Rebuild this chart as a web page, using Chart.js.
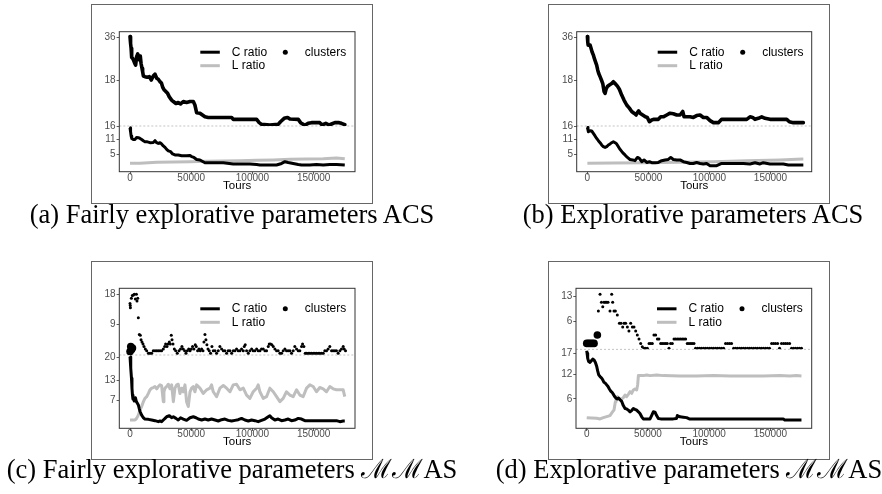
<!DOCTYPE html>
<html>
<head>
<meta charset="utf-8">
<script src="https://cdn.jsdelivr.net/npm/chart.js@4.4.0/dist/chart.umd.min.js"></script>
<style>
  body { margin: 0; background: #fff; width: 882px; height: 494px; position: relative; overflow: hidden; }
  .box { position: absolute; border: 1px solid #666; box-sizing: border-box; }
  .box canvas { display: block; }
  .cap { position: absolute; width: 600px; text-align: center; white-space: nowrap;
         font-family: "Liberation Serif", serif; font-size: 26.5px; line-height: 26.5px; color: #000; }
</style>
</head>
<body>
<div class="box" style="left:91px;top:4px;width:282px;height:200px"><canvas id="pa" width="280" height="198"></canvas></div>
<div class="box" style="left:548px;top:4px;width:282px;height:200px"><canvas id="pb" width="280" height="198"></canvas></div>
<div class="box" style="left:91px;top:261px;width:282px;height:199px"><canvas id="pc" width="280" height="197"></canvas></div>
<div class="box" style="left:548px;top:261px;width:282px;height:199px"><canvas id="pd" width="280" height="197"></canvas></div>
<div class="cap" style="left:-68px;top:201px">(a) Fairly explorative parameters ACS</div>
<div class="cap" style="left:393px;top:201px">(b) Explorative parameters ACS</div>
<div class="cap" style="left:-68px;top:456px">(c) Fairly explorative parameters ℳℳAS</div>
<div class="cap" style="left:389px;top:456px">(d) Explorative parameters ℳℳAS</div>
<script>
// series names and ticks
const seriesNames = ['C ratio', 'L ratio', 'clusters'];
const xTicks = [0, 50000, 100000, 150000];
const abUpperTicks = [18, 36];
const abLowerTicks = [5, 11, 16];
const cUpperTicks = [9, 18];
const cLowerTicks = [7, 13, 20];
const dUpperTicks = [6, 13];
const dLowerTicks = [6, 12, 17];

// (a) fairly explorative ACS  [tours, value]
const aClusters = [[0,36.4],[300,34.1],[600,32.7],[900,30.2],[1200,27.9],[1500,26.1],[2200,25.7],[3000,24.8],[3800,23.8],[4600,23.1],[5400,26.4],[6300,27.6],[7100,26.1],[7600,25.1],[8400,26.7],[9000,23.8],[9800,21.9],[10300,20.8],[10900,19.4],[12200,19.2],[14100,19.0],[15800,19.2],[17400,18.2],[19000,19.4],[20400,20.0],[21800,18.7],[23100,18.4],[24500,17.7],[25600,17.4],[26700,16.2],[28000,15.5],[29400,15.1],[30700,14.7],[32100,13.9],[34000,13.2],[35400,12.9],[37500,12.5],[39400,12.7],[41300,12.4],[43500,12.9],[46200,12.7],[49000,12.9],[51700,12.9],[53000,12.2],[54400,10.8],[57100,10.7],[61200,10.1],[63900,10.0],[76200,10.0],[83000,10.0],[84300,9.7],[95200,9.7],[103400,9.7],[105500,9.2],[107400,8.95],[114200,8.86],[121000,8.95],[122900,9.34],[125900,9.86],[128700,10.0],[130600,9.75],[137400,9.7],[139300,9.2],[142800,8.81],[145500,9.1],[148200,9.2],[155000,9.2],[156900,8.86],[159900,9.1],[162700,8.86],[164600,9.0],[167300,9.2],[170800,9.2],[172700,9.1],[175400,8.9]];
const aCRatio = [[0,15.6],[300,14.9],[600,14.0],[900,12.3],[1400,11.3],[2700,10.9],[4100,10.9],[5400,11.7],[6800,11.6],[8200,11.3],[9500,10.9],[10900,10.4],[12200,10.0],[13600,10.0],[16300,9.6],[19000,9.7],[20400,10.4],[21800,9.6],[23100,9.3],[24500,9.6],[25800,9.1],[27200,8.3],[28600,7.7],[29900,6.9],[31300,6.3],[33200,6.0],[34800,5.1],[36700,4.7],[39400,4.7],[42200,4.4],[46200,4.4],[49000,4.5],[50300,4.0],[52200,3.7],[54400,2.9],[57100,2.7],[61200,1.6],[65300,1.6],[76200,1.6],[84300,1.1],[97900,1.1],[103400,0.9],[106100,0.7],[119700,0.7],[123800,1.3],[126500,2.0],[129200,1.7],[133300,1.3],[137400,0.9],[140100,0.7],[146900,0.7],[152300,0.9],[157800,0.7],[163200,0.9],[168600,0.9],[175400,0.7]];
const aLRatio = [[0,1.33],[8200,1.33],[21800,1.73],[49000,2.0],[62600,2.13],[76200,2.27],[89800,2.4],[103400,2.53],[117000,2.67],[130600,2.93],[144200,3.07],[157800,3.2],[168600,3.47],[175400,3.2]];

// (b) explorative ACS
const bClusters = [[0,36.4],[300,33.6],[600,31.8],[800,31.8],[2200,31.8],[3000,30.2],[3800,28.6],[4900,27.1],[5700,25.7],[6600,24.4],[7600,23.1],[8500,21.3],[9300,20.2],[10400,19.2],[11500,18.2],[12600,17.2],[13700,15.1],[14500,14.7],[15300,15.7],[16400,16.4],[18000,16.8],[19900,17.2],[21300,17.7],[22700,17.2],[24600,16.5],[26200,15.7],[28100,14.3],[30000,13.2],[32200,12.2],[34400,11.6],[36300,11.0],[38200,10.7],[39900,10.4],[41000,10.8],[42000,11.1],[43100,10.7],[45300,10.4],[47500,10.1],[49100,10.0],[50800,9.34],[52700,9.6],[54600,9.7],[58100,9.7],[60100,10.1],[62200,10.1],[65000,10.4],[67700,10.7],[70400,10.6],[73200,10.4],[75900,10.4],[78100,11.0],[79200,10.1],[81400,10.1],[84100,10.1],[86800,10.0],[89500,10.3],[92300,10.4],[95000,10.0],[97700,10.0],[100500,9.5],[103200,9.2],[107300,9.2],[110000,9.7],[116800,9.7],[130500,9.7],[133200,10.1],[135400,10.0],[137300,9.7],[140000,9.86],[142800,10.1],[145500,9.86],[149600,9.7],[163300,9.7],[165400,9.34],[168700,9.2],[176900,9.2]];
const bCRatio = [[0,15.7],[500,14.7],[800,14.0],[2200,14.4],[3500,14.3],[4900,13.3],[6300,12.3],[7600,11.3],[9000,10.4],[10400,9.6],[11700,8.7],[13100,8.0],[14500,7.7],[15800,8.0],[17200,8.7],[18600,9.1],[19900,9.6],[21300,10.0],[22700,9.6],[24000,9.1],[25400,8.0],[26800,6.9],[28900,5.6],[30800,4.7],[32800,3.7],[34900,2.9],[37100,2.7],[39000,2.4],[41000,3.7],[42600,3.3],[44500,2.0],[46400,2.7],[48600,1.7],[50800,2.0],[52700,1.6],[55400,1.6],[58100,1.7],[60900,2.4],[63600,2.7],[66300,2.9],[68300,3.7],[70400,2.9],[73200,2.7],[75900,2.7],[78600,2.0],[81400,1.7],[84100,1.3],[86800,1.3],[89500,1.7],[92300,1.3],[95000,1.1],[97700,1.3],[100500,0.4],[105900,0.4],[110000,1.3],[116800,1.3],[127800,1.3],[133200,1.1],[137300,1.6],[141400,1.1],[144100,1.6],[149600,1.1],[160500,1.1],[164600,0.7],[176900,0.7]];
const bLRatio = [[0,1.33],[21300,1.47],[48600,1.6],[75900,1.73],[103200,2.0],[130500,2.4],[157800,2.67],[171400,2.93],[176900,3.07]];

// (c) fairly explorative MMAS
const cClusters = [[0,14.6],[200,13.9],[300,13.2],[1100,16.4],[1900,17.5],[2700,17.7],[3500,18.0],[4400,16.2],[5200,18.0],[5700,15.4],[6300,16.4],[6800,10.5],[7600,7.1],[8400,7.0],[9000,6.3],[9800,6.0],[10600,5.7],[11400,5.4],[12500,5.1],[13600,4.9],[15000,4.6],[16300,4.6],[17700,4.6],[19000,4.9],[20400,4.9],[21800,4.9],[23100,4.9],[24500,4.9],[25800,4.9],[27200,5.1],[28300,5.4],[29100,5.7],[30200,5.4],[31000,5.7],[32100,6.0],[32900,5.7],[33700,7.0],[34300,6.3],[35100,5.7],[36200,5.1],[37300,4.9],[38600,4.6],[40000,4.9],[41300,5.1],[42400,5.4],[43500,5.1],[44600,4.9],[45700,4.6],[46800,4.9],[47900,5.1],[49000,4.9],[50100,5.1],[51100,5.4],[52200,5.1],[53300,5.6],[54100,5.4],[55200,4.9],[56300,5.1],[57400,4.9],[58500,5.1],[59600,4.9],[60400,6.0],[61200,7.1],[62000,6.3],[62800,5.6],[63700,5.1],[64700,4.9],[65800,4.6],[66900,5.4],[68000,4.9],[69400,4.9],[70700,4.6],[72100,4.9],[73400,5.4],[74800,5.1],[76200,4.9],[77500,4.9],[78900,4.6],[80200,4.9],[81600,4.9],[83000,4.6],[84300,4.9],[85700,4.9],[87000,5.1],[88400,4.9],[89800,4.9],[91100,5.1],[92500,4.9],[93300,5.4],[94100,5.6],[95200,4.9],[96600,4.6],[97900,4.9],[99300,5.1],[100600,4.9],[102000,4.9],[103400,5.1],[104700,4.9],[106100,4.9],[107400,5.1],[108800,5.1],[110200,4.9],[111500,4.9],[112900,5.4],[113700,5.7],[114800,5.7],[115900,5.6],[117000,5.4],[118300,5.1],[119700,4.9],[121000,4.9],[122400,4.6],[123800,4.6],[125100,4.9],[126500,5.1],[127800,4.9],[129200,4.9],[130600,4.9],[131900,4.6],[133300,4.9],[134600,5.4],[136000,5.1],[137400,4.9],[138700,4.9],[140100,5.4],[140900,5.7],[142000,5.4],[143100,4.6],[144200,4.6],[145500,4.6],[146900,4.6],[148200,4.6],[149600,4.6],[151000,4.6],[152300,4.6],[153700,4.6],[155000,4.6],[156400,4.6],[157800,4.6],[159100,4.9],[160500,4.9],[161800,5.1],[163200,5.4],[164600,4.9],[165900,4.9],[167300,4.9],[168600,4.9],[170000,4.6],[171400,4.9],[172700,5.1],[174100,5.4],[174900,5.1],[176000,4.9]];
const cBigDots = [[0,4.8],[600,5.4],[1200,5.0],[2000,5.2]];
const cCRatio = [[0,20.3],[400,19.3],[800,16.8],[1200,13.7],[1600,10.7],[2000,8.6],[2400,7.4],[2700,7.4],[3500,6.8],[4400,7.8],[5200,6.6],[6000,6.1],[6800,5.6],[7600,4.4],[8200,3.6],[9500,2.5],[10900,1.7],[12200,1.3],[15000,1.2],[17700,1.0],[20400,0.8],[23100,0.5],[24500,0.7],[25800,0.5],[27200,1.0],[28600,1.5],[29900,2.0],[32100,2.3],[34000,1.7],[35400,2.0],[37500,1.5],[39400,1.0],[41300,1.7],[43500,1.3],[46200,0.9],[49000,1.7],[51700,2.0],[53900,1.7],[55800,1.3],[58500,1.0],[61200,1.3],[63900,1.0],[66600,1.3],[69400,1.0],[72100,0.7],[74800,1.1],[77500,1.3],[80200,0.9],[83000,0.7],[85700,0.9],[88400,1.1],[91100,1.5],[93800,1.0],[96600,0.7],[99300,1.0],[102000,0.8],[104700,0.5],[107400,0.9],[110200,1.3],[112900,2.0],[114200,2.3],[115600,1.7],[118300,1.0],[121000,1.3],[123800,0.8],[126500,1.0],[129200,1.3],[131900,0.8],[134600,1.0],[137400,1.5],[140100,1.3],[142800,0.8],[146900,0.8],[157800,0.8],[168600,0.8],[171400,0.5],[174100,0.7],[175400,0.7]];
const cLRatio = [[0,1.0],[4100,1.0],[5400,1.5],[6800,2.5],[8200,4.1],[9500,5.1],[10900,6.6],[12200,7.6],[13600,8.1],[15000,9.1],[16300,10.2],[17700,10.7],[19000,10.9],[20400,11.2],[21800,10.5],[23100,11.2],[24500,11.7],[25800,11.5],[27200,6.6],[27700,9.6],[28600,10.7],[29900,11.2],[31300,11.9],[32600,10.5],[34000,11.7],[35400,6.6],[36700,10.7],[38100,11.7],[39400,11.9],[40800,9.1],[42200,10.7],[43500,9.6],[44900,11.7],[46200,6.6],[47600,5.1],[49000,9.6],[50300,10.7],[51700,11.2],[53000,9.6],[54400,11.7],[57100,10.7],[59800,9.1],[62600,10.2],[65300,10.7],[66600,11.7],[68000,9.6],[70700,8.1],[73400,10.7],[76200,11.5],[78900,10.7],[81600,9.6],[84300,11.7],[87000,11.9],[89800,10.2],[92500,10.7],[95200,8.6],[97900,7.6],[100600,9.6],[103400,10.7],[104700,11.7],[106100,9.6],[108800,7.6],[111500,8.1],[114200,10.7],[117000,9.6],[119700,8.1],[122400,6.6],[125100,7.6],[127800,9.6],[130600,8.6],[133300,8.1],[136000,10.2],[138700,8.6],[141400,8.1],[144200,10.7],[146900,11.7],[149600,11.2],[152300,9.6],[155000,10.9],[157800,10.5],[160500,9.6],[163200,11.2],[165900,10.5],[168600,10.2],[171400,10.2],[174100,10.2],[175400,8.1]];

// (d) explorative MMAS
const dClusters = [[9500,8.2],[10900,13.7],[12000,10.7],[13100,9.3],[14100,10.7],[15200,10.7],[16300,10.7],[17400,10.7],[19000,8.2],[20400,13.7],[21200,10.7],[22300,8.2],[23400,8.2],[25000,7.2],[26700,5.6],[28000,5.6],[29400,5.0],[30500,5.6],[31800,5.6],[33200,5.0],[34500,4.4],[35900,5.6],[37300,5.0],[38600,5.0],[40000,4.4],[41300,3.9],[42700,3.44],[44100,3.0],[45400,2.71],[46800,2.58],[48100,2.58],[49500,2.58],[50900,3.0],[52200,3.0],[53600,3.0],[54900,3.9],[56300,3.9],[57700,3.44],[59000,3.44],[60400,3.0],[61700,3.0],[63100,3.0],[64500,3.0],[65800,3.0],[67200,2.58],[68500,3.0],[69900,3.0],[71300,3.44],[72600,3.44],[74000,3.44],[75300,3.44],[76700,3.44],[78100,3.44],[79400,3.44],[80800,3.44],[82100,3.0],[83500,3.0],[84900,3.0],[86200,3.0],[87600,3.0],[88900,2.58],[90600,2.58],[92200,2.58],[93800,2.58],[95500,2.58],[97100,2.58],[98700,2.58],[100400,2.58],[102000,2.58],[103600,2.58],[105300,2.58],[106900,2.58],[108500,2.58],[110200,2.58],[111800,2.58],[113400,3.0],[115100,3.0],[116700,3.0],[118300,3.0],[120000,2.58],[121600,2.58],[123200,2.58],[124900,2.58],[126500,2.58],[128100,2.58],[129700,2.58],[131400,2.58],[133000,2.58],[134600,2.58],[136300,2.58],[137900,2.58],[139500,2.58],[141200,2.58],[142800,2.58],[144400,2.58],[146100,2.58],[147700,2.58],[149300,2.58],[151000,3.0],[152600,3.0],[154200,3.0],[155900,3.0],[157500,2.58],[159100,3.0],[160800,3.0],[162400,3.0],[164000,3.0],[165700,3.0],[167300,2.58],[168900,2.58],[170500,2.58],[172200,2.58],[173800,2.58],[175400,2.58]];
const dBigDots = [[0,3.0],[1500,3.0],[3000,3.0],[4500,3.0],[6000,3.0],[8700,3.9]];
const dCRatio = [[0,17.6],[300,17.0],[800,15.8],[1600,15.0],[2700,14.8],[3800,15.2],[4900,15.6],[6000,15.4],[7100,14.8],[8200,13.8],[9000,12.7],[9800,11.8],[10900,11.4],[12000,11.1],[13100,10.6],[14100,10.0],[15200,9.8],[16300,9.4],[17400,9.0],[18500,8.4],[19600,7.9],[20700,7.6],[21800,7.1],[22800,6.6],[23900,6.2],[25000,6.0],[26100,6.2],[27200,5.8],[28600,5.4],[29900,4.4],[31300,3.7],[32600,3.6],[34000,3.3],[35400,2.9],[36700,3.2],[38100,3.7],[39400,3.5],[40800,3.3],[42200,2.9],[43500,2.5],[44900,1.7],[46200,1.2],[47600,1.2],[49000,1.2],[51700,1.2],[53000,2.0],[54400,2.9],[55800,2.8],[57100,2.0],[58500,1.3],[60400,1.2],[62600,1.2],[68000,1.2],[70700,1.2],[73400,1.3],[74000,2.0],[76200,1.7],[78900,1.6],[81600,1.5],[83800,1.2],[89800,1.2],[117000,1.2],[144200,1.2],[160500,1.2],[161800,0.9],[175400,0.9]];
const dLRatio = [[0,1.5],[8200,1.34],[10900,1.18],[13600,1.5],[16300,1.74],[19000,1.98],[21200,2.94],[22300,3.35],[23400,5.35],[23900,6.16],[25000,6.56],[26100,6.16],[27200,6.0],[28600,6.0],[29900,6.32],[31300,6.96],[32600,6.56],[34000,7.12],[35400,7.76],[36700,7.36],[38100,8.16],[39400,8.41],[40800,8.16],[41600,9.37],[42200,11.62],[43500,11.62],[46200,11.62],[49000,11.78],[51700,11.62],[57100,11.78],[62600,11.62],[76200,11.54],[89800,11.54],[103400,11.62],[117000,11.54],[144200,11.54],[157800,11.62],[165900,11.54],[171400,11.62],[175400,11.54]];

const BLACK = '#000000';
const GREY = '#bebebe';
const AXIS = '#333333';
const TICKTXT = '#4d4d4d';
const SANS = '"Liberation Sans", Arial, sans-serif';

const toXY = arr => arr.map(([x, y]) => ({ x, y }));

// plot frame, dashed split line and the two-column legend
const decor = {
  id: 'decor',
  beforeDatasetsDraw(chart) {
    const { ctx, chartArea: a } = chart;
    const y = chart.scales.yc.bottom;
    ctx.save();
    ctx.strokeStyle = '#b5b5b5';
    ctx.lineWidth = 0.8;
    ctx.setLineDash([2, 2]);
    ctx.beginPath();
    ctx.moveTo(a.left, y);
    ctx.lineTo(a.right, y);
    ctx.stroke();
    ctx.restore();
  },
  afterDraw(chart) {
    const { ctx, chartArea: a } = chart;
    ctx.save();
    ctx.strokeStyle = AXIS;
    ctx.lineWidth = 1;
    ctx.strokeRect(a.left, a.top, a.right - a.left, a.bottom - a.top);

    const x0 = a.left + 81, y1 = a.top + 20.5, y2 = a.top + 34;
    ctx.lineWidth = 3;
    ctx.strokeStyle = BLACK;
    ctx.beginPath(); ctx.moveTo(x0, y1); ctx.lineTo(x0 + 19.5, y1); ctx.stroke();
    ctx.strokeStyle = GREY;
    ctx.beginPath(); ctx.moveTo(x0, y2); ctx.lineTo(x0 + 19.5, y2); ctx.stroke();
    ctx.fillStyle = BLACK;
    ctx.beginPath(); ctx.arc(x0 + 85, y1, 2.5, 0, Math.PI * 2); ctx.fill();
    ctx.font = '12px ' + SANS;
    ctx.textBaseline = 'middle';
    ctx.textAlign = 'left';
    ctx.fillText(seriesNames[0], x0 + 31.5, y1);
    ctx.fillText(seriesNames[1], x0 + 31.5, y2);
    ctx.fillText(seriesNames[2], x0 + 104.5, y1);
    ctx.restore();
  }
};

function tickAxis(extra) {
  return Object.assign({
    border: { display: false },
    grid: { display: true, drawOnChartArea: false, drawTicks: true, tickLength: 2.7, color: AXIS, lineWidth: 0.8 },
    ticks: { font: { family: SANS, size: 10, lineHeight: 1 }, color: TICKTXT, padding: 1, autoSkip: false, maxRotation: 0,
             callback: v => String(v) }
  }, extra);
}

function makePanel(p) {
  const datasets = [];
  if (p.dotted) {
    datasets.push({ data: toXY(p.clusters), yAxisID: 'yc', showLine: false, pointRadius: 1.5,
                    pointBackgroundColor: BLACK, pointBorderWidth: 0 });
    datasets.push({ data: toXY(p.big), yAxisID: 'yc', showLine: false, pointRadius: 3.8,
                    pointBackgroundColor: BLACK, pointBorderWidth: 0 });
  } else {
    datasets.push({ data: toXY(p.clusters), yAxisID: 'yc', borderColor: BLACK, borderWidth: 3.6,
                    pointRadius: 0, borderJoinStyle: 'round', borderCapStyle: 'round' });
  }
  datasets.push({ data: toXY(p.cRatio), yAxisID: 'yr', borderColor: BLACK, borderWidth: 3,
                  pointRadius: 0, borderJoinStyle: 'round' });
  datasets.push({ data: toXY(p.lRatio), yAxisID: 'yr', borderColor: GREY, borderWidth: 3,
                  pointRadius: 0, borderJoinStyle: 'round' });

  const yTicks = list => s => { s.ticks = list.map(v => ({ value: v })); };

  new Chart(document.getElementById(p.id), {
    type: 'line',
    data: { datasets },
    options: {
      responsive: false,
      animation: false,
      devicePixelRatio: 1,
      parsing: false,
      layout: { padding: p.pad },
      plugins: { legend: { display: false }, tooltip: { enabled: false } },
      scales: {
        x: tickAxis({
          type: 'linear', min: -8750, max: 183750,
          afterBuildTicks: s => { s.ticks = xTicks.map(v => ({ value: v })); },
          afterFit: s => { s.height = 19.5; },
          ticks: { font: { family: SANS, size: 10, lineHeight: 1 }, color: TICKTXT, padding: -1.5, autoSkip: false,
                   maxRotation: 0, callback: v => String(v) },
          title: { display: true, text: 'Tours', color: '#000', font: { family: SANS, size: 11.5, lineHeight: 1 },
                   padding: { top: 0, bottom: 0 } }
        }),
        yc: tickAxis({
          type: 'logarithmic', position: 'left', stack: 'ys', stackWeight: p.up.w, weight: 1,
          min: p.up.min, max: p.up.max,
          afterBuildTicks: yTicks(p.up.ticks),
          afterFit: s => { s.width = 22; }
        }),
        yr: tickAxis({
          type: 'linear', position: 'left', stack: 'ys', stackWeight: p.low.w, weight: 0,
          min: p.low.min, max: p.low.max,
          afterBuildTicks: yTicks(p.low.ticks),
          afterFit: s => { s.width = 22; }
        })
      }
    },
    plugins: [decor]
  });
}

makePanel({ id: 'pa', dotted: false, clusters: aClusters, cRatio: aCRatio, lRatio: aLRatio,
  up: { min: 8.72, max: 39.4, ticks: abUpperTicks, w: 94.3 },
  low: { min: -2.0, max: 16.27, ticks: abLowerTicks, w: 45.7 },
  pad: { left: 5.3, right: 17, top: 26.7, bottom: 11.8 } });
makePanel({ id: 'pb', dotted: false, clusters: bClusters, cRatio: bCRatio, lRatio: bLRatio,
  up: { min: 8.72, max: 39.4, ticks: abUpperTicks, w: 94.3 },
  low: { min: -2.0, max: 16.27, ticks: abLowerTicks, w: 45.7 },
  pad: { left: 5.7, right: 17.3, top: 26.7, bottom: 11.8 } });
makePanel({ id: 'pc', dotted: true, clusters: cClusters, big: cBigDots, cRatio: cCRatio, lRatio: cLRatio,
  up: { min: 4.43, max: 20.7, ticks: cUpperTicks, w: 66.7 },
  low: { min: -1.52, max: 20.8, ticks: cLowerTicks, w: 73.3 },
  pad: { left: 5.3, right: 17, top: 26.3, bottom: 11.2 } });
makePanel({ id: 'pd', dotted: true, clusters: dClusters, big: dBigDots, cRatio: dCRatio, lRatio: dLRatio,
  up: { min: 2.5, max: 16.5, ticks: dUpperTicks, w: 61 },
  low: { min: -1.07, max: 17.96, ticks: dLowerTicks, w: 79 },
  pad: { left: 5, right: 17.3, top: 26.3, bottom: 11.2 } });
</script>
</body>
</html>
